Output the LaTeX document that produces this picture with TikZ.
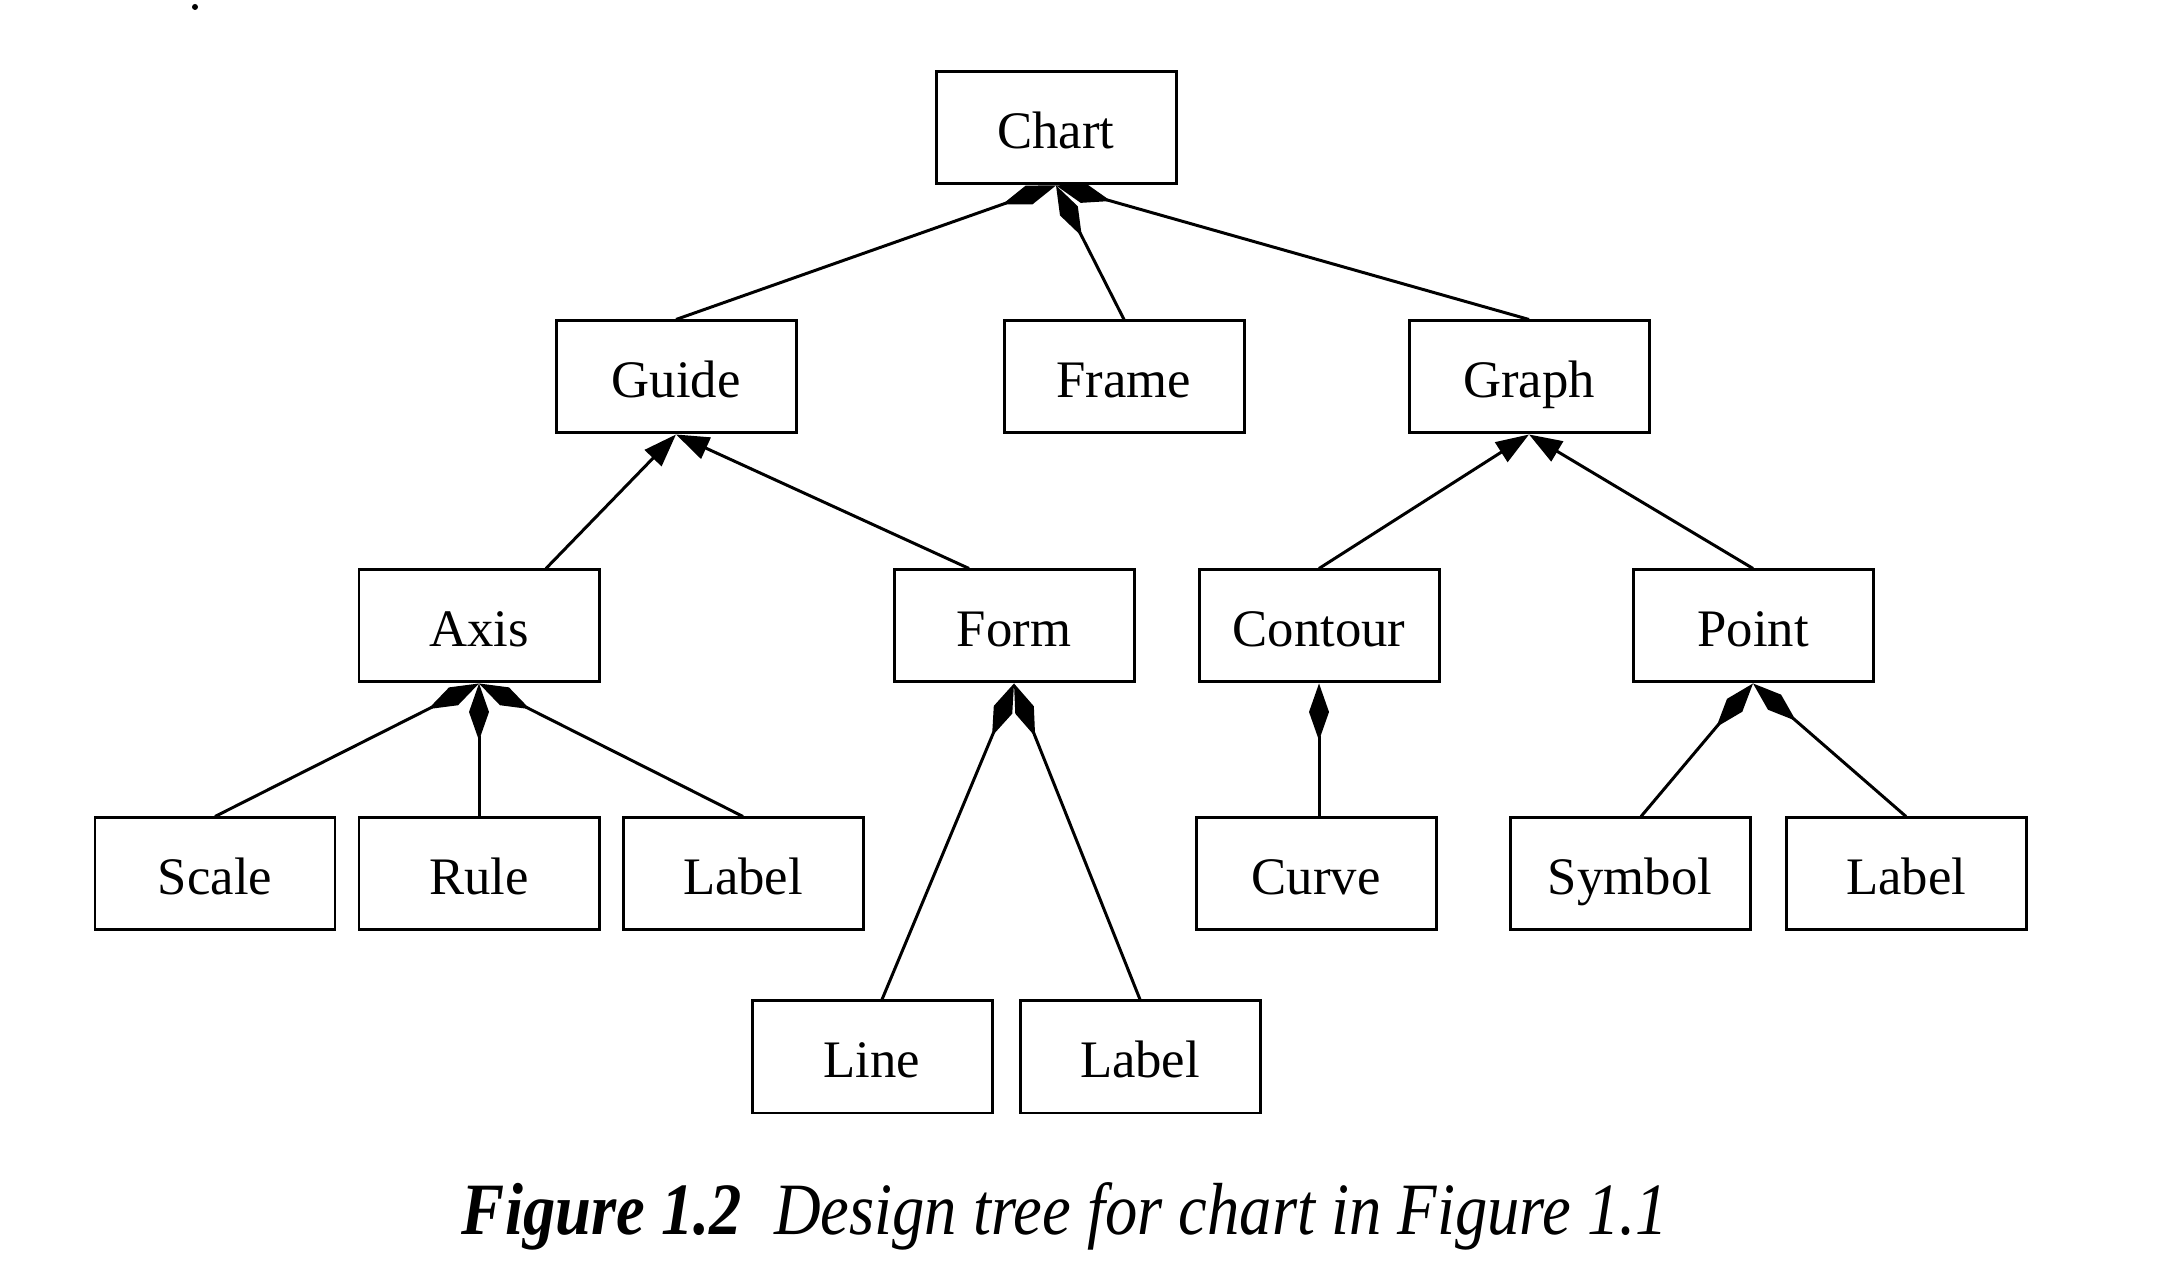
\documentclass[tikz,border=0pt]{standalone}
\usepackage{fontspec}
\setmainfont{Liberation Serif}
\usepackage{graphicx}
\usetikzlibrary{arrows.meta,positioning}
\tikzset{%
	box/.style     = {draw, rectangle, line width=0.85pt, minimum width=2.4cm, minimum height=1.12cm, inner sep=0pt, text height=14pt, text depth=2.5pt, text centered, font=\fontsize{15}{18}\selectfont},
	part/.style    = {line width=0.85pt, -{Diamond[length=0.57cm, width=0.2cm]}},
	kindof/.style  = {line width=0.85pt, -{Triangle[length=0.33cm, width=0.23cm]}},
}
\begin{document}
\begin{tikzpicture}
		\useasboundingbox (0,0) rectangle (21.8,12.88);
		\fill (1.95,12.81) circle (0.03);
		% level 0
		\node[box] (chart) at (10.56,11.60) {Chart};
		% level 1
		\node[box] (guide) at (6.76,9.11) {Guide};
		\node[box] (frame) at (11.24,9.11) {Frame};
		\node[box] (graph) at (15.29,9.11) {Graph};
		% level 2
		\node[box] (axis) at (4.79,6.62) {Axis};
		\node[box] (form) at (10.14,6.62) {Form};
		\node[box] (contour) at (13.19,6.62) {Contour};
		\node[box] (point) at (17.53,6.62) {Point};
		% level 3
		\node[box] (scale) at (2.15,4.14) {Scale};
		\node[box] (rule) at (4.79,4.14) {Rule};
		\node[box] (axislabel) at (7.43,4.14) {Label};
		\node[box] (curve) at (13.16,4.14) {Curve};
		\node[box] (symbol) at (16.30,4.14) {Symbol};
		\node[box] (pointlabel) at (19.06,4.14) {Label};
		% level 4
		\node[box] (line) at (8.72,2.31) {Line};
		\node[box] (formlabel) at (11.40,2.31) {Label};
		% links
		\draw[part] (guide.north) -- (chart.south);
		\draw[part] (frame.north) -- (chart.south);
		\draw[part] (graph.north) -- (chart.south);
		\draw[kindof] ([xshift=0.67cm]axis.north) -- (guide.south);
		\draw[kindof] ([xshift=-0.45cm]form.north) -- (guide.south);
		\draw[kindof] (contour.north) -- (graph.south);
		\draw[kindof] (point.north) -- (graph.south);
		\draw[part] (scale.north) -- (axis.south);
		\draw[part] (rule.north) -- (axis.south);
		\draw[part] (axislabel.north) -- (axis.south);
		\draw[part] ([xshift=0.1cm]line.north) -- (form.south);
		\draw[part] (formlabel.north) -- (form.south);
		\draw[part] (contour.south |- curve.north) -- (contour.south);
		\draw[part] ([xshift=0.11cm]symbol.north) -- (point.south);
		\draw[part] (pointlabel.north) -- (point.south);
		% caption
		\node (caption) at (10.65,0.72) {\fontsize{21}{25}\selectfont\itshape\scalebox{0.875}[1]{\textbf{Figure 1.2}\hspace{0.5em}Design tree for chart in Figure 1.1}};
\end{tikzpicture}
\end{document}
